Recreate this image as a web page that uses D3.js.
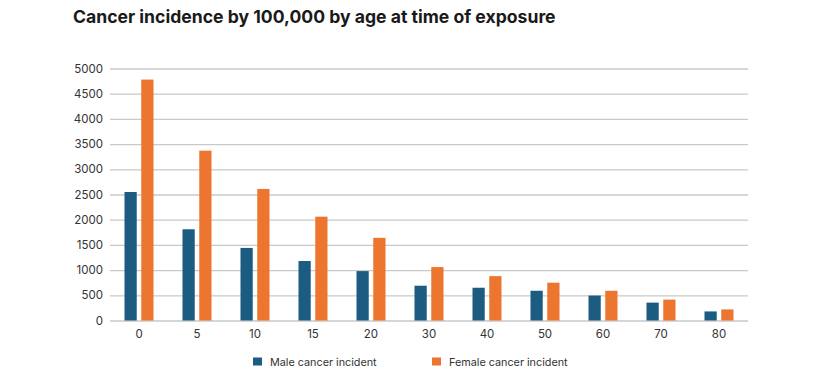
<!DOCTYPE html>
<html><head><meta charset="utf-8">
<script src="https://cdn.jsdelivr.net/npm/d3@7"></script>
<style>body{margin:0;background:#fff}svg{display:block}</style>
</head><body>
<svg id="c" width="829" height="379"></svg>
<script>
const ages = ["0","5","10","15","20","30","40","50","60","70","80"];
const male = [2550,1810,1440,1180,980,690,650,590,495,355,180];
const female = [4780,3370,2610,2060,1640,1060,880,750,590,415,220];
const seriesNames = ["Male cancer incident","Female cancer incident"];
const colors = ["#1b5c80","#ec7530"];
const yTicks = [0,500,1000,1500,2000,2500,3000,3500,4000,4500,5000];
const title = "Cancer incidence by 100,000 by age at time of exposure";

const svg = d3.select("#c");
const font = "Inter, 'DejaVu Sans', sans-serif";
const x0 = d3.scaleBand().domain(ages).range([110,748]).paddingInner(0.5).paddingOuter(0.25);
const x1 = d3.scaleBand().domain([0,1]).range([0,x0.bandwidth()]).paddingInner(0.27);
const y = d3.scaleLinear().domain([0,5000]).range([320.5,68.5]);

svg.append("text").attr("x",73).attr("y",23).attr("font-family",font)
  .attr("font-weight",700).attr("font-size",17.6).attr("fill","#1a1a1a").text(title);

const ya = svg.append("g").attr("transform","translate(110,0)")
  .call(d3.axisLeft(y).tickValues(yTicks).tickSize(-638).tickPadding(7).tickFormat(d3.format("d")));
ya.select(".domain").remove();
ya.selectAll(".tick line").attr("stroke","#c9c9c9").attr("stroke-width",1.3);
ya.selectAll(".tick text").attr("font-family",font).attr("font-size",11.5).attr("fill","#333");

const xa = svg.append("g").attr("transform","translate(0,320.5)")
  .call(d3.axisBottom(x0).tickSize(0).tickPadding(9));
xa.select(".domain").remove();
xa.selectAll(".tick text").attr("font-family",font).attr("font-size",11.5).attr("fill","#333");

const data = ages.map((a,i)=>({age:a, vals:[male[i],female[i]]}));
const g = svg.append("g").selectAll("g").data(data).join("g")
  .attr("transform",d=>`translate(${x0(d.age)},0)`);
g.selectAll("rect").data(d=>d.vals.map((v,k)=>({v,k}))).join("rect")
  .attr("x",d=>x1(d.k)).attr("width",x1.bandwidth())
  .attr("y",d=>y(d.v)).attr("height",d=>y(0)-y(d.v))
  .attr("fill",d=>colors[d.k]);

const legX = [253,432];
const leg = svg.append("g").selectAll("g").data(seriesNames).join("g")
  .attr("transform",(d,i)=>`translate(${legX[i]},357.5)`);
leg.append("rect").attr("width",9).attr("height",8).attr("fill",(d,i)=>colors[i]);
leg.append("text").attr("x",17).attr("y",8).attr("font-family",font).attr("font-size",10.8)
  .attr("fill","#333").text(d=>d);
</script>
</body></html>
